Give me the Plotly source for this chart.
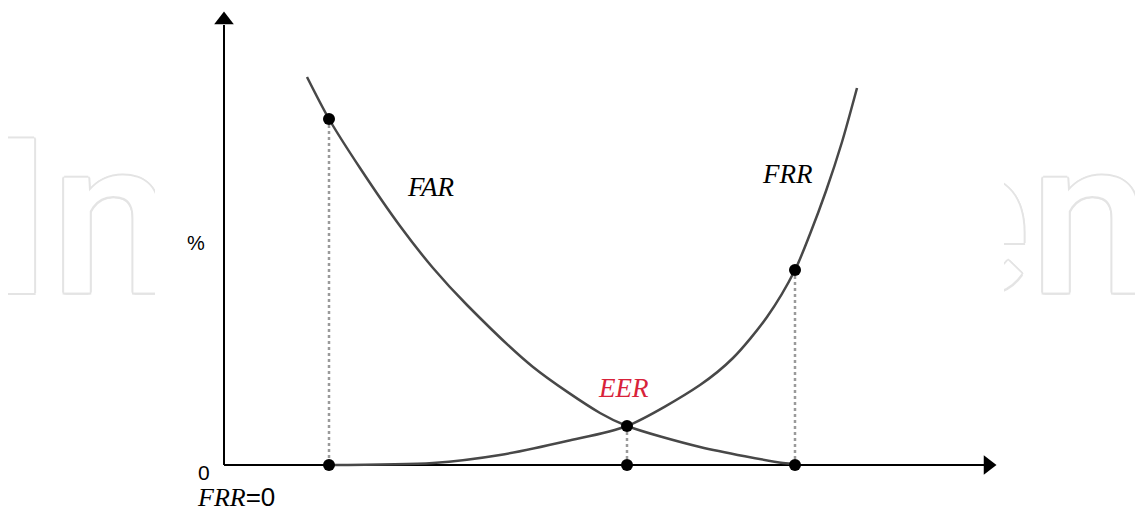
import plotly.graph_objects as go

# threshold position (x) vs error rate (y) in pixel units from the origin
far_x = [83, 105, 136, 176, 209, 243, 309, 376, 403, 476, 559, 571]
far_y = [388, 346, 297, 239, 197, 160, 98, 52, 39, 18, 2, 1]

frr_x = [105, 209, 276, 343, 403, 476, 509, 543, 571, 586, 602, 618, 633]
frr_y = [0, 2, 10, 24, 39, 80, 107, 148, 195, 231, 274, 323, 377]

# marked thresholds: FRR=0, EER, FAR=0
mark_x = [105, 403, 571]
mark_y = [346, 39, 195]

axis_x_end = 760
axis_y_end = 440

serif = "Liberation Serif"
sans = "Liberation Sans"
wm_col = "#e4e4e4"
wm_shadow = ", ".join(f"{dx}px {dy}px 0 {wm_col}" for dx, dy in
                      [(2, 0), (-2, 0), (0, 2), (0, -2), (1.5, 1.5), (-1.5, -1.5), (1.5, -1.5), (-1.5, 1.5)])

fig = go.Figure()

# faint watermark, middle part hidden behind a white panel
fig.add_trace(go.Scatter(x=[-143], y=[226], mode="text", text=["In"],
                         textposition="middle center",
                         textfont=dict(family="Roboto", size=217, color="white",
                                       weight=500, shadow=wm_shadow),
                         hoverinfo="skip", showlegend=False))
fig.add_trace(go.Scatter(x=[690], y=[226], mode="text", text=["en"],
                         textposition="middle right", cliponaxis=False,
                         textfont=dict(family="Roboto", size=217, color="white",
                                       weight=500, shadow=wm_shadow),
                         hoverinfo="skip", showlegend=False))
fig.add_trace(go.Scatter(x=[-69, 780, 780, -69, -69], y=[-49, -49, 457, 457, -49],
                         fill="toself", fillcolor="white", mode="lines",
                         line=dict(width=0, color="white"), hoverinfo="skip", showlegend=False))

# axes with arrow heads
fig.add_trace(go.Scatter(x=[0, 0, None, 0, axis_x_end], y=[axis_y_end, 0, None, 0, 0], mode="lines",
                         line=dict(color="black", width=2), hoverinfo="skip", showlegend=False))
fig.add_trace(go.Scatter(x=[0], y=[axis_y_end + 5], mode="markers",
                         marker=dict(symbol="triangle-up", size=17, color="black"),
                         hoverinfo="skip", showlegend=False))
fig.add_trace(go.Scatter(x=[axis_x_end + 4], y=[0], mode="markers",
                         marker=dict(symbol="triangle-right", size=17, color="black"),
                         hoverinfo="skip", showlegend=False))

# dotted drop lines
drop_x, drop_y = [], []
for mx, my in zip(mark_x, mark_y):
    drop_x += [mx, mx, None]
    drop_y += [my, 0, None]
fig.add_trace(go.Scatter(x=drop_x, y=drop_y, mode="lines",
                         line=dict(color="#9a9a9a", width=2.5, dash="dot"),
                         hoverinfo="skip", showlegend=False))

# curves
fig.add_trace(go.Scatter(x=far_x, y=far_y, mode="lines", line_shape="spline",
                         line=dict(color="#484848", width=2.5, smoothing=0.8),
                         name="FAR", showlegend=False))
fig.add_trace(go.Scatter(x=frr_x, y=frr_y, mode="lines", line_shape="spline",
                         line=dict(color="#484848", width=2.5, smoothing=0.8),
                         name="FRR", showlegend=False))

# dots on the curves and on the axis
fig.add_trace(go.Scatter(x=mark_x + mark_x, y=mark_y + [0, 0, 0], mode="markers",
                         marker=dict(color="black", size=12), hoverinfo="skip", showlegend=False))

# labels
labels = [
    ("<i>FAR</i>", 207, 278, "black", serif, 27),
    ("<i>FRR</i>", 563, 291, "black", serif, 27),
    ("<i>EER</i>", 399, 77, "#d8223a", serif, 27),
    ("%", -28, 222, "black", sans, 20),
    ("0", -20, -7, "black", sans, 21),
    ("<i>FRR</i><span style='font-family:Liberation Sans'>=0</span>", 12, -32, "black", serif, 26),
]
for txt, lx, ly, col, fam, sz in labels:
    fig.add_annotation(x=lx, y=ly, text=txt, showarrow=False,
                       font=dict(family=fam, size=sz, color=col))

# the page adds an 8px body margin, so the figure is 8px smaller and the ranges shifted
fig.update_layout(width=1135, height=506,
                  margin=dict(l=0, r=0, t=0, b=0),
                  paper_bgcolor="white", plot_bgcolor="white",
                  xaxis=dict(range=[-216, 919], visible=False, fixedrange=True),
                  yaxis=dict(range=[-49, 457], visible=False, fixedrange=True))

fig.write_html("out.html")
